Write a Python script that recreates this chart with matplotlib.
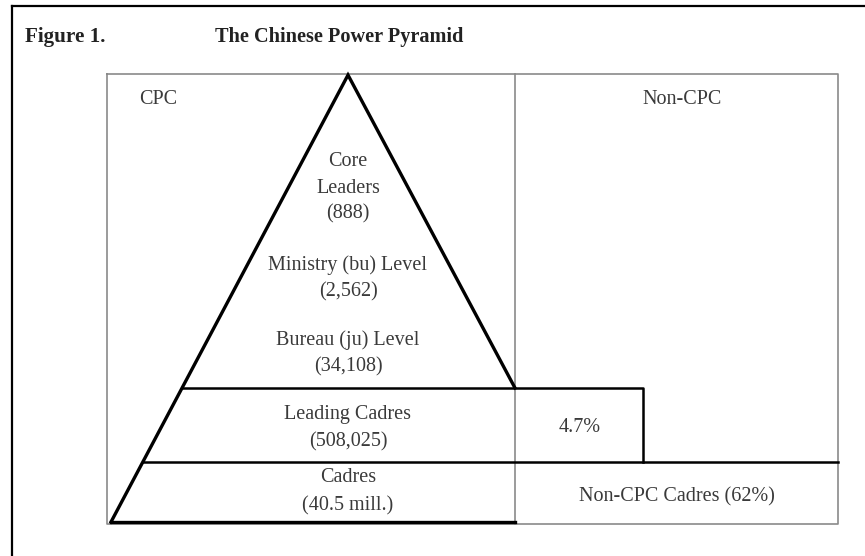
import matplotlib.pyplot as plt

# Du lieu
title_num = "Figure 1."
title_text = "The Chinese Power Pyramid"
side_labels = ["CPC", "Non-CPC"]
tier_names = ["Core\nLeaders", "Ministry (bu) Level", "Bureau (ju) Level", "Leading Cadres", "Cadres"]
tier_counts = ["(888)", "(2,562)", "(34,108)", "(508,025)", "(40.5 mill.)"]
non_cpc_labels = ["4.7%", "Non-CPC Cadres (62%)"]

# Bo cuc (pixel)
W, H = 865, 556
apex = (348, 75)
base_y = 522
base_left = 111
frame = (107, 74, 838, 524)   # trai, tren, phai, duoi
divider_x = 515
cut1 = 388       # duoi Bureau
cut2 = 462       # duoi Leading Cadres
box_right = 643

TXT = '#3a3a3a'
FONT = 'Liberation Serif'
FS = 14.5

fig = plt.figure(figsize=(W / 100, H / 100), dpi=100)
ax = fig.add_axes([0, 0, 1, 1])
ax.set_xlim(0, W)
ax.set_ylim(H, 0)
ax.axis('off')


def left_x(y):
    # toa do x cua canh trai kim tu thap tai y
    return apex[0] + (base_left - apex[0]) * (y - apex[1]) / (base_y - apex[1])


# vien ngoai (chi tren va trai)
ax.plot([12, W], [6, 6], color='black', lw=1.6)
ax.plot([12, 12], [6, H], color='black', lw=1.6)

# khung xam
l, t, r, b = frame
ax.plot([l, r, r, l, l], [t, t, b, b, t], color='#8a8a8a', lw=1.2)
ax.plot([divider_x, divider_x], [t, b], color='#8a8a8a', lw=1.2)

# kim tu thap
lw = 2.4
ax.plot([left_x(base_y), apex[0], divider_x], [base_y, apex[1], cut1], color='black', lw=lw,
        solid_joinstyle='miter')
ax.plot([left_x(cut1), box_right, box_right], [cut1, cut1, cut2], color='black', lw=1.8)
ax.plot([left_x(cut2), r], [cut2, cut2], color='black', lw=1.8)
ax.plot([left_x(base_y), divider_x], [base_y, base_y], color='black', lw=lw)

# tieu de
ax.text(25, 37, title_num, fontsize=15.2, fontweight='bold', family=FONT, color='#222222',
        ha='left', va='center')
ax.text(215, 37, title_text, fontsize=14.6, fontweight='bold', family=FONT, color='#222222',
        ha='left', va='center')

ax.text(158, 99, side_labels[0], fontsize=FS, family=FONT, color=TXT, ha='center', va='center')
ax.text(682, 99, side_labels[1], fontsize=FS, family=FONT, color=TXT, ha='center', va='center')

# nhan cac tang
name_y = [175, 265, 340, 415, 478]
count_y = [214, 292, 367, 442, 506]
for i in range(len(tier_names)):
    ax.text(apex[0], name_y[i], tier_names[i], fontsize=FS, family=FONT, color=TXT,
            ha='center', va='center', linespacing=1.6)
    ax.text(apex[0], count_y[i], tier_counts[i], fontsize=FS, family=FONT, color=TXT,
            ha='center', va='center')

ax.text(580, 428, non_cpc_labels[0], fontsize=FS, family=FONT, color=TXT, ha='center', va='center')
ax.text(677, 497, non_cpc_labels[1], fontsize=FS, family=FONT, color=TXT, ha='center', va='center')

plt.savefig('out.png', dpi=100, facecolor='white')
